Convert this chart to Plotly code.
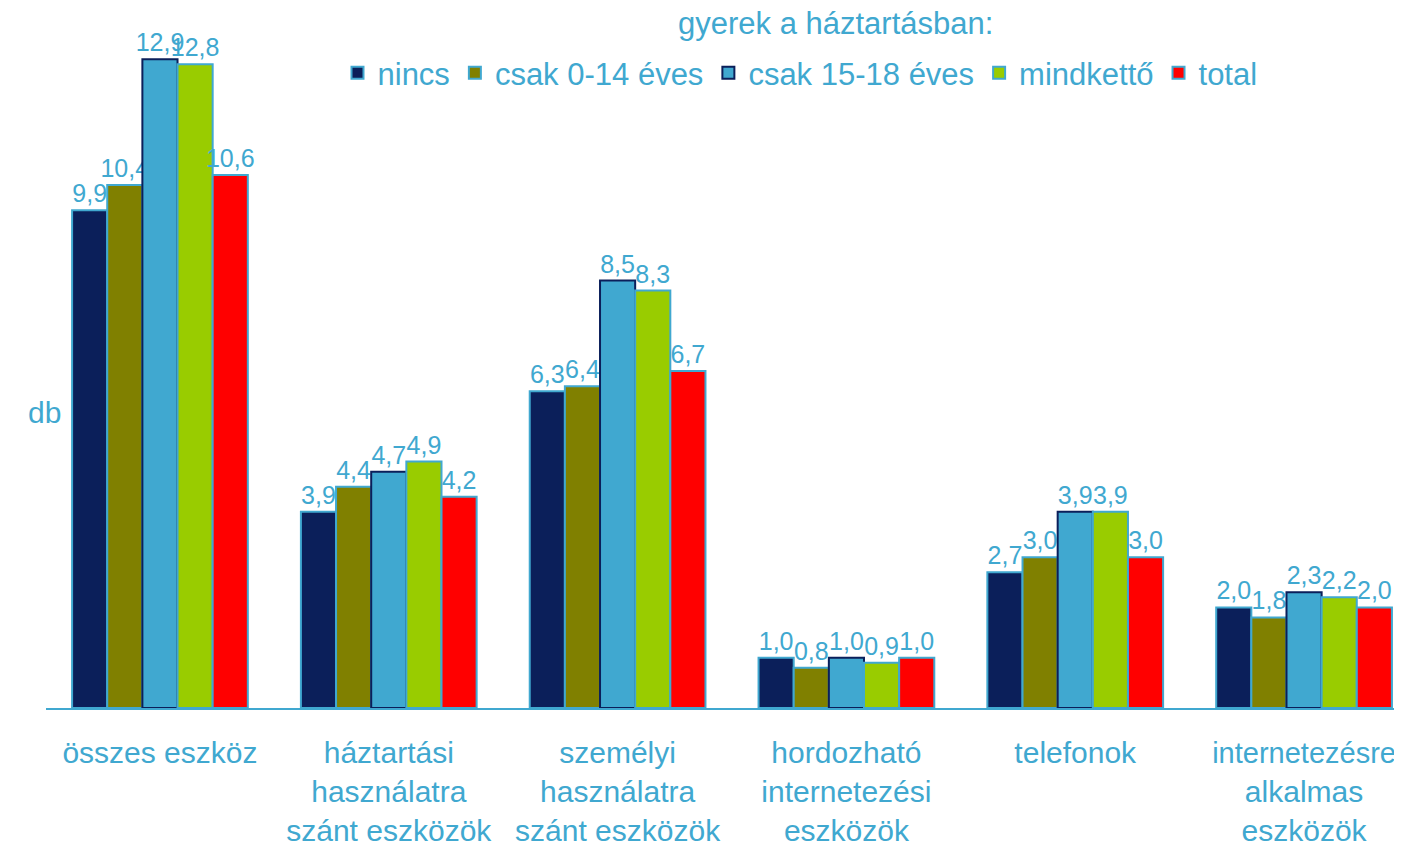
import plotly.graph_objects as go

categories = [
    "összes eszköz",
    "háztartási<br>használatra<br>szánt eszközök",
    "személyi<br>használatra<br>szánt eszközök",
    "hordozható<br>internetezési<br>eszközök",
    "telefonok",
    "<span style='font-size:29px'>internetezésre</span><br>alkalmas<br>eszközök",
]
series_names = ["nincs", "csak 0-14 éves", "csak 15-18 éves", "mindkettő", "total"]
nincs = [9.9, 3.9, 6.3, 1.0, 2.7, 2.0]
csak_0_14 = [10.4, 4.4, 6.4, 0.8, 3.0, 1.8]
csak_15_18 = [12.9, 4.7, 8.5, 1.0, 3.9, 2.3]
mindketto = [12.8, 4.9, 8.3, 0.9, 3.9, 2.2]
total = [10.6, 4.2, 6.7, 1.0, 3.0, 2.0]
series_values = [nincs, csak_0_14, csak_15_18, mindketto, total]

colors = ["#0b1f5a", "#808000", "#40a8d0", "#99cc00", "#ff0000"]
edge_colors = ["#40a8d0", "#40a8d0", "#0b1f5a", "#40a8d0", "#40a8d0"]
txt_color = "#40a8d0"
FONT = "Liberation Sans, Arial, sans-serif"

# page body has an 8px margin, so the figure is sized to the visible area
OFF = 8
W, H = 1402 - OFF, 848 - OFF
L, T, B = 38, 6, 140
plot_h = H - T - B
plot_w = W - L


def px_x(px):
    return (px - OFF - L) / plot_w


def px_y(py):
    return (H - B - (py - OFF)) / plot_h


fig = go.Figure()
for name, vals, c, ec in zip(series_names, series_values, colors, edge_colors):
    fig.add_trace(go.Bar(
        x=list(range(len(categories))),
        y=vals,
        name=name,
        marker=dict(color=c, line=dict(color=ec, width=2)),
        text=[f"{v:.1f}".replace(".", ",") for v in vals],
        textposition="outside",
        textfont=dict(family=FONT, size=25, color=txt_color),
        constraintext="none",
        cliponaxis=False,
    ))

fig.update_layout(
    width=W, height=H,
    margin=dict(l=L, r=0, t=T, b=B, autoexpand=False),
    paper_bgcolor="white", plot_bgcolor="white",
    barmode="group", bargap=0.232, bargroupgap=0,
    font=dict(family=FONT, color=txt_color, size=30),
    showlegend=True,
    legend=dict(
        orientation="h", x=px_x(800), xanchor="center", y=px_y(73), yanchor="middle",
        font=dict(family=FONT, size=31, color=txt_color),
        bgcolor="rgba(0,0,0,0)", itemwidth=30,
    ),
    xaxis=dict(
        tickmode="array", tickvals=list(range(len(categories))), ticktext=categories,
        range=[-0.498, 5.428], showline=True, linecolor="#40a8d0", linewidth=2,
        ticks="", showgrid=False, zeroline=False, automargin=False,
        ticklabelstandoff=17, ticklabeloverflow="allow",
        tickfont=dict(family=FONT, size=30, color=txt_color),
    ),
    yaxis=dict(range=[0, 13.8], showticklabels=False, showgrid=False, zeroline=False,
               showline=False, ticks="", automargin=False),
    annotations=[
        dict(text="gyerek a háztartásban:", x=px_x(835), y=px_y(23), xref="paper", yref="paper",
             yanchor="middle", showarrow=False, font=dict(family=FONT, size=31, color=txt_color)),
        dict(text="db", x=px_x(26), y=px_y(412), xref="paper", yref="paper", showarrow=False,
             yanchor="middle", font=dict(family=FONT, size=30, color=txt_color)),
    ],
)

fig.write_html("out.html")
